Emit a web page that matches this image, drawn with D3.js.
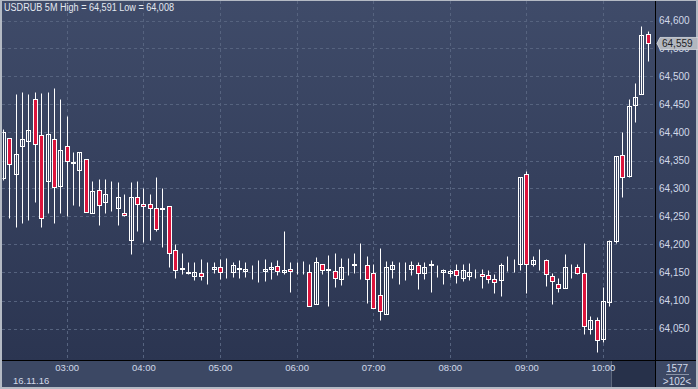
<!DOCTYPE html>
<html><head><meta charset="utf-8">
<script src="https://cdn.jsdelivr.net/npm/d3@7/dist/d3.min.js"></script>
<style>
html,body{margin:0;padding:0;background:#b4bac4;}
svg{display:block;font-family:"Liberation Sans",Arial,sans-serif;}
</style></head>
<body>
<svg id="c" width="698" height="389"></svg>
<script>
// ---- data (USDRUB, 5-minute bars, 16.11.16, first bar 02:10) ----
const symbolTitle = "USDRUB 5M High = 64,591 Low = 64,008";
const dateLabel = "16.11.16";
const firstBar = new Date(2016, 10, 16, 2, 10);
const barMinutes = 5;
const open = [
64.318,64.390,64.325,64.375,64.384,64.459,64.395,64.313,64.388,64.304,
64.375,64.345,64.333,64.352,64.256,64.298,64.275,64.265,64.266,64.256,
64.208,64.284,64.272,64.272,64.266,64.263,64.268,64.190,64.156,64.149,
64.143,64.149,64.156,64.156,64.159,64.153,64.150,64.157,64.153,64.157,
64.157,64.152,64.157,64.161,64.150,64.157,64.155,64.153,64.150,64.093,
64.166,64.154,64.152,64.139,64.164,64.163,64.164,64.163,64.149,64.109,
64.075,64.157,64.163,64.161,64.157,64.163,64.149,64.163,64.151,64.150,
64.149,64.154,64.141,64.143,64.152,64.147,64.145,64.138,64.136,64.166,
64.163,64.165,64.325,64.166,64.168,64.172,64.143,64.129,64.123,64.160,
64.159,64.149,64.050,64.066,64.031,64.097,64.206,64.359,64.322,64.449,
64.468,64.575];
const high = [
64.406,64.390,64.469,64.472,64.469,64.472,64.470,64.472,64.479,64.460,
64.429,64.365,64.366,64.352,64.313,64.317,64.317,64.313,64.311,64.290,
64.311,64.313,64.300,64.291,64.320,64.300,64.268,64.200,64.185,64.169,
64.169,64.174,64.169,64.169,64.174,64.175,64.169,64.172,64.169,64.163,
64.172,64.174,64.169,64.172,64.224,64.169,64.169,64.171,64.165,64.178,
64.166,64.181,64.185,64.175,64.175,64.185,64.203,64.179,64.165,64.194,
64.171,64.171,64.169,64.169,64.171,64.169,64.169,64.172,64.163,64.157,
64.157,64.165,64.165,64.167,64.156,64.157,64.154,64.147,64.167,64.179,
64.174,64.320,64.331,64.179,64.192,64.174,64.149,64.140,64.183,64.165,
64.165,64.202,64.072,64.070,64.124,64.208,64.358,64.401,64.459,64.488,
64.591,64.581];
const low = [
64.315,64.247,64.231,64.239,64.244,64.276,64.232,64.256,64.239,64.257,
64.251,64.271,64.269,64.258,64.256,64.234,64.257,64.259,64.234,64.251,
64.183,64.225,64.205,64.208,64.225,64.196,64.160,64.140,64.147,64.147,
64.137,64.137,64.130,64.149,64.138,64.141,64.142,64.141,64.142,64.138,
64.133,64.135,64.138,64.146,64.147,64.116,64.147,64.147,64.091,64.093,
64.147,64.091,64.124,64.128,64.146,64.149,64.138,64.096,64.086,64.065,
64.075,64.141,64.130,64.137,64.146,64.121,64.139,64.116,64.142,64.130,
64.142,64.132,64.135,64.137,64.141,64.123,64.132,64.114,64.108,64.152,
64.150,64.155,64.114,64.162,64.155,64.125,64.093,64.116,64.122,64.140,
64.147,64.040,64.041,64.008,64.025,64.091,64.202,64.285,64.320,64.418,
64.468,64.527];
const close = [
64.401,64.343,64.361,64.388,64.404,64.379,64.247,64.397,64.302,64.368,
64.350,64.348,64.366,64.258,64.295,64.270,64.291,64.265,64.284,64.252,
64.284,64.272,64.268,64.265,64.227,64.266,64.184,64.154,64.158,64.151,
64.151,64.143,64.156,64.159,64.150,64.153,64.163,64.158,64.157,64.157,
64.157,64.157,64.159,64.152,64.154,64.152,64.155,64.153,64.091,64.168,
64.154,64.157,64.141,64.159,64.164,64.166,64.164,64.139,64.086,64.081,
64.159,64.163,64.163,64.161,64.163,64.149,64.159,64.166,64.151,64.154,
64.152,64.145,64.154,64.150,64.152,64.143,64.138,64.133,64.163,64.166,
64.163,64.320,64.165,64.172,64.168,64.147,64.134,64.122,64.159,64.160,
64.149,64.054,64.065,64.029,64.099,64.206,64.358,64.320,64.447,64.463,
64.574,64.559];
const yTicks = [64.05,64.10,64.15,64.20,64.25,64.30,64.35,64.40,64.45,64.50,64.55,64.60];
const hourTicks = [3,4,5,6,7,8,9,10].map(h => new Date(2016, 10, 16, h, 0));
const lastPrice = 64.559;
const barCountText = "1577";
const visibleText = ">102<";

// ---- layout ----
const W = 698, H = 389;
const plotL = 2, plotR = 655, plotT = 1, plotB = 360;
const svg = d3.select("#c");
const defs = svg.append("defs");
const g = defs.append("linearGradient").attr("id","bg").attr("x1",0).attr("y1",0).attr("x2",0).attr("y2",1);
g.append("stop").attr("offset","0%").attr("stop-color","#3f4b69");
g.append("stop").attr("offset","100%").attr("stop-color","#2b3551");
defs.append("clipPath").attr("id","clip").append("rect")
  .attr("x",plotL+0.5).attr("y",plotT).attr("width",plotR-plotL-0.5).attr("height",plotB-plotT);

svg.append("rect").attr("width",W).attr("height",H).attr("fill","#b4bac4");
svg.append("rect").attr("x",2).attr("y",1).attr("width",694).attr("height",359).attr("fill","url(#bg)");
svg.append("rect").attr("x",2).attr("y",361).attr("width",694).attr("height",26).attr("fill","#3c4864");
svg.append("rect").attr("x",611).attr("y",361).attr("width",44).attr("height",26).attr("fill","#27314a");
svg.append("line").attr("x1",611.5).attr("x2",611.5).attr("y1",361).attr("y2",387).attr("stroke","#5d677c");

const x = d3.scaleTime()
  .domain([new Date(2016,10,16,3,0), new Date(2016,10,16,10,0)])
  .range([66.7, 603]);
const y = d3.scaleLinear().domain([64.05, 64.60]).range([328.5, 20.5]);

const bars = open.map((o,i) => ({
  t: new Date(firstBar.getTime() + i*barMinutes*60000),
  o, h: high[i], l: low[i], c: close[i]
}));

// gridlines
const grid = svg.append("g").attr("stroke","#56637f").attr("stroke-dasharray","3,3").attr("stroke-width",1);
grid.selectAll("line.h").data(yTicks).join("line").attr("class","h")
  .attr("x1",plotL).attr("x2",plotR)
  .attr("y1",d=>Math.round(y(d))+0.5).attr("y2",d=>Math.round(y(d))+0.5);
grid.selectAll("line.v").data(hourTicks).join("line").attr("class","v")
  .attr("x1",d=>Math.round(x(d))+0.5).attr("x2",d=>Math.round(x(d))+0.5)
  .attr("y1",plotT).attr("y2",plotB);

// candles
const cg = svg.append("g").attr("clip-path","url(#clip)");
const cand = cg.selectAll("g").data(bars).join("g");
const rx = d => Math.round(x(d.t));
const ry = v => Math.round(y(v)) + 0.5;
cand.append("line")
  .attr("x1",d=>rx(d)+0.5).attr("x2",d=>rx(d)+0.5)
  .attr("y1",d=>ry(d.h)).attr("y2",d=>ry(d.l))
  .attr("stroke","#ffffff").attr("stroke-width",1);
cand.append("rect")
  .attr("x",d=>rx(d)-1.5).attr("width",4)
  .attr("y",d=>ry(Math.max(d.o,d.c)))
  .attr("height",d=>Math.max(0, ry(Math.min(d.o,d.c)) - ry(Math.max(d.o,d.c))))
  .attr("fill",d=> d.c < d.o ? "#dc143c" : "#33405c")
  .attr("fill-opacity",d=> d.c < d.o ? 1 : 0)
  .attr("stroke","#ffffff").attr("stroke-width",1);

// frame lines
svg.append("line").attr("x1",2).attr("x2",696).attr("y1",360.5).attr("y2",360.5).attr("stroke","#000");
svg.append("line").attr("x1",655.5).attr("x2",655.5).attr("y1",1).attr("y2",387).attr("stroke","#000");

// price axis
const fmt = v => d3.format(".3f")(v).replace(".", ",");
const ya = svg.append("g").attr("transform","translate(656,0)")
  .call(d3.axisRight(y).tickValues(yTicks).tickSize(0).tickPadding(3).tickFormat(fmt));
ya.select(".domain").remove();
ya.selectAll("text").attr("fill","#d2d9e8").attr("font-size","10px")
  .attr("font-family","'Liberation Sans',Arial,sans-serif");

// last price marker
const ly = y(lastPrice);
svg.append("path")
  .attr("d",`M657,${ly} L660,${ly-6} L698,${ly-6} L698,${ly+6} L660,${ly+6} Z`)
  .attr("fill","#b3b7bf").attr("stroke","#d6d9de").attr("stroke-width",0.8);
svg.append("text").attr("x",662).attr("y",ly+3.6).attr("font-size","10px")
  .attr("fill","#1c1f26").text(fmt(lastPrice));

// time axis
const xa = svg.append("g").attr("transform","translate(0,361)")
  .call(d3.axisBottom(x).tickValues(hourTicks).tickSize(0).tickPadding(3).tickFormat(d3.timeFormat("%H:%M")));
xa.select(".domain").remove();
xa.selectAll("text").attr("fill","#d2d9e8").attr("font-size","9.5px")
  .attr("font-family","'Liberation Sans',Arial,sans-serif");
svg.append("text").attr("x",13).attr("y",383.5).attr("font-size","9.5px")
  .attr("fill","#d2d9e8").text(dateLabel);

// title
svg.append("text").attr("x",4).attr("y",11).attr("font-size","10px")
  .attr("fill","#e4e8f0").attr("textLength",170).attr("lengthAdjust","spacingAndGlyphs")
  .text(symbolTitle);

// corner box
svg.append("text").attr("x",677).attr("y",371.5).attr("text-anchor","middle")
  .attr("font-size","10px").attr("fill","#d2d9e8").text(barCountText);
svg.append("line").attr("x1",666).attr("x2",689).attr("y1",374.5).attr("y2",374.5).attr("stroke","#8a93a6");
svg.append("text").attr("x",677).attr("y",384.5).attr("text-anchor","middle")
  .attr("font-size","10px").attr("fill","#d2d9e8").text(visibleText);
</script>
</body></html>
